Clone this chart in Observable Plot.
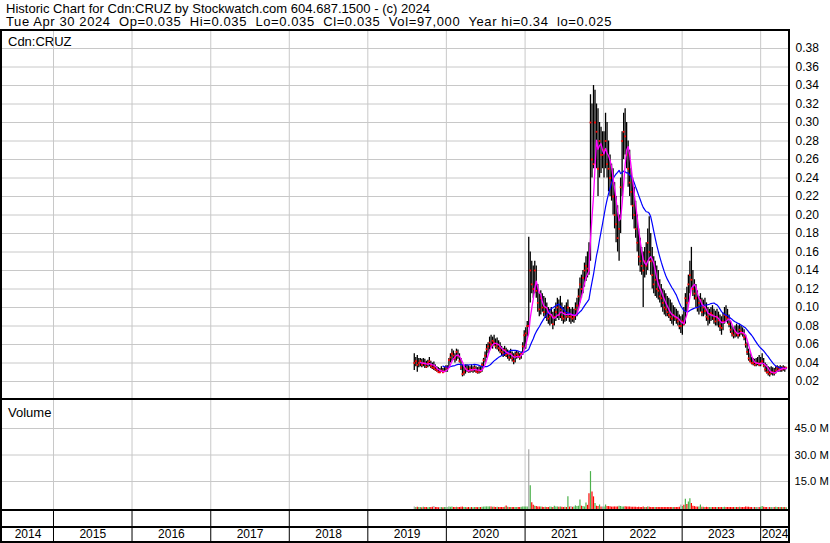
<!DOCTYPE html>
<html><head><meta charset="utf-8">
<script src="https://cdn.jsdelivr.net/npm/d3@7"></script>
<script src="https://cdn.jsdelivr.net/npm/@observablehq/plot@0.6"></script>
<style>
body{margin:0;background:#fff;}
#chart{position:relative;width:830px;height:543px;overflow:hidden;background:#fff;font-family:"Liberation Sans",Arial,sans-serif;}
.abs{position:absolute;}
.txt{font-size:13px;line-height:13px;white-space:pre;color:#000;}
.hdr{font-size:13px;line-height:12px;}
.ln{position:absolute;background:#000;}
</style></head><body><div id="chart"></div>
<script>
// ---- data (weekly: [high, low, close, volume in millions]) ----
const weekStart = {2019:"2019-08-05", 2020:"2020-01-06", 2021:"2021-01-04", 2022:"2022-01-03", 2023:"2023-01-02", 2024:"2024-01-01"};
const w2019 = [
[0.050,0.032,0.040,0.5],[0.046,0.036,0.042,0.3],[0.048,0.030,0.038,0.4],[0.045,0.035,0.040,0.3],
[0.045,0.036,0.042,0.3],[0.044,0.035,0.038,0.2],[0.045,0.036,0.040,0.4],[0.044,0.034,0.039,0.3],
[0.042,0.034,0.036,0.3],[0.043,0.035,0.040,0.2],[0.046,0.036,0.042,0.3],[0.042,0.034,0.037,0.3],
[0.040,0.033,0.035,0.4],[0.041,0.032,0.035,0.8],[0.038,0.031,0.033,0.3],[0.036,0.030,0.032,0.3],
[0.035,0.030,0.030,0.2],[0.034,0.029,0.030,0.3],[0.036,0.030,0.032,0.3],[0.034,0.029,0.030,0.2],
[0.035,0.030,0.031,0.3],[0.037,0.030,0.035,0.3]];
const w2020 = [
[0.037,0.030,0.035,0.3],[0.045,0.034,0.043,0.5],[0.050,0.040,0.046,0.4],[0.055,0.042,0.050,0.5],
[0.053,0.043,0.048,0.3],[0.050,0.040,0.045,0.3],[0.055,0.042,0.052,0.4],[0.054,0.044,0.048,0.3],
[0.050,0.040,0.042,0.3],[0.045,0.032,0.035,0.4],[0.038,0.025,0.028,0.5],[0.036,0.026,0.030,0.3],
[0.038,0.028,0.034,0.3],[0.038,0.030,0.033,0.2],[0.037,0.029,0.031,0.3],[0.036,0.029,0.034,0.2],
[0.038,0.030,0.032,0.3],[0.036,0.029,0.033,0.2],[0.037,0.030,0.035,0.3],[0.036,0.029,0.031,0.3],
[0.035,0.028,0.030,0.2],[0.036,0.028,0.032,0.3],[0.036,0.029,0.031,0.3],[0.040,0.030,0.038,0.4],
[0.045,0.036,0.043,0.5],[0.052,0.040,0.048,0.5],[0.060,0.045,0.055,0.6],[0.062,0.050,0.058,0.5],
[0.068,0.054,0.062,0.6],[0.070,0.056,0.060,0.5],[0.068,0.055,0.064,0.4],[0.070,0.058,0.062,0.4],
[0.066,0.055,0.058,0.3],[0.067,0.054,0.060,0.4],[0.064,0.052,0.056,0.3],[0.062,0.050,0.054,0.3],
[0.058,0.048,0.052,0.3],[0.056,0.046,0.050,0.3],[0.058,0.047,0.054,0.4],[0.056,0.046,0.049,1.2],
[0.054,0.044,0.050,0.4],[0.053,0.042,0.046,0.3],[0.055,0.044,0.050,0.3],[0.052,0.041,0.045,0.3],
[0.050,0.038,0.042,0.3],[0.052,0.040,0.048,0.3],[0.053,0.044,0.050,0.3],[0.052,0.045,0.048,0.3],
[0.050,0.043,0.046,0.3],[0.052,0.044,0.050,0.4],[0.062,0.048,0.058,0.5],[0.075,0.055,0.070,0.6]];
const w2021 = [
[0.078,0.055,0.072,0.6],[0.085,0.068,0.080,0.5],[0.176,0.078,0.080,33.0],[0.160,0.105,0.140,12.6],
[0.150,0.115,0.125,3.0],[0.145,0.110,0.120,1.5],[0.150,0.115,0.140,1.0],[0.145,0.110,0.118,0.8],
[0.125,0.095,0.105,0.6],[0.115,0.090,0.098,0.5],[0.118,0.092,0.110,0.5],[0.115,0.095,0.100,0.4],
[0.112,0.090,0.095,0.3],[0.110,0.088,0.100,0.4],[0.105,0.085,0.092,0.3],[0.100,0.082,0.088,0.3],
[0.098,0.080,0.090,0.6],[0.100,0.082,0.092,0.4],[0.095,0.076,0.082,0.3],[0.098,0.080,0.090,1.0],
[0.105,0.085,0.095,0.5],[0.110,0.088,0.100,0.6],[0.108,0.086,0.092,0.4],[0.112,0.088,0.098,0.6],
[0.105,0.085,0.090,0.4],[0.100,0.082,0.088,0.3],[0.102,0.084,0.095,0.4],[0.105,0.085,0.090,0.3],
[0.108,0.088,0.100,6.3],[0.100,0.084,0.090,0.5],[0.098,0.082,0.090,0.8],[0.100,0.084,0.088,0.4],
[0.098,0.083,0.090,0.5],[0.105,0.086,0.098,1.2],[0.110,0.090,0.102,0.8],[0.120,0.098,0.112,1.0],
[0.132,0.105,0.125,4.5],[0.135,0.110,0.120,1.0],[0.140,0.115,0.132,0.8],[0.148,0.122,0.140,0.6],
[0.155,0.128,0.145,2.9],[0.160,0.132,0.142,1.5],[0.170,0.135,0.140,8.0],[0.330,0.150,0.300,20.6],
[0.320,0.240,0.260,9.1],[0.340,0.250,0.255,6.3],[0.335,0.255,0.300,2.5],[0.320,0.250,0.290,1.0],
[0.315,0.220,0.250,0.8],[0.300,0.240,0.280,1.7],[0.295,0.245,0.265,0.6],[0.290,0.250,0.265,0.6]];
const w2022 = [
[0.290,0.240,0.270,0.6],[0.310,0.250,0.280,1.7],[0.300,0.240,0.255,0.8],[0.280,0.225,0.250,0.8],
[0.265,0.220,0.240,0.7],[0.255,0.215,0.235,0.5],[0.250,0.200,0.220,0.5],[0.235,0.185,0.200,0.6],
[0.220,0.170,0.190,0.5],[0.210,0.160,0.175,0.6],[0.200,0.150,0.185,1.0],[0.240,0.180,0.230,0.8],
[0.290,0.220,0.280,0.6],[0.310,0.260,0.290,0.6],[0.315,0.265,0.285,0.7],[0.300,0.250,0.265,0.5],
[0.280,0.230,0.250,0.6],[0.270,0.220,0.235,0.5],[0.250,0.210,0.225,0.4],[0.240,0.195,0.210,0.4],
[0.230,0.185,0.200,0.4],[0.215,0.175,0.185,0.4],[0.200,0.160,0.170,0.3],[0.185,0.145,0.155,0.4],
[0.175,0.138,0.150,0.3],[0.165,0.135,0.145,0.3],[0.160,0.100,0.140,0.5],[0.165,0.132,0.150,0.3],
[0.170,0.135,0.145,0.3],[0.185,0.140,0.170,0.6],[0.198,0.150,0.160,0.4],[0.180,0.135,0.150,0.3],
[0.165,0.120,0.135,0.3],[0.155,0.115,0.125,0.3],[0.150,0.112,0.130,0.3],[0.145,0.110,0.120,0.3],
[0.140,0.108,0.118,0.3],[0.130,0.105,0.112,0.3],[0.125,0.100,0.110,0.3],[0.120,0.095,0.105,0.3],
[0.118,0.092,0.100,0.3],[0.115,0.090,0.098,0.3],[0.112,0.090,0.095,0.3],[0.110,0.088,0.092,0.3],
[0.108,0.085,0.090,0.3],[0.105,0.082,0.088,0.3],[0.102,0.080,0.092,0.3],[0.100,0.085,0.090,0.3],
[0.098,0.082,0.088,0.3],[0.096,0.080,0.085,0.3],[0.092,0.076,0.080,0.4],[0.090,0.072,0.080,1.7]];
const w2023 = [
[0.092,0.070,0.085,0.8],[0.100,0.080,0.082,1.5],[0.115,0.082,0.110,5.0],[0.122,0.095,0.105,2.0],
[0.135,0.105,0.125,3.4],[0.150,0.115,0.135,5.3],[0.165,0.120,0.130,2.5],[0.140,0.112,0.120,1.0],
[0.130,0.108,0.115,0.8],[0.125,0.100,0.110,0.6],[0.118,0.095,0.100,0.5],[0.112,0.092,0.105,0.6],
[0.115,0.095,0.108,1.7],[0.110,0.090,0.095,0.4],[0.108,0.090,0.100,0.4],[0.110,0.092,0.096,0.3],
[0.105,0.085,0.090,0.4],[0.100,0.080,0.088,0.3],[0.098,0.082,0.092,0.3],[0.100,0.085,0.094,0.3],
[0.102,0.086,0.092,0.3],[0.098,0.082,0.088,0.3],[0.096,0.080,0.085,0.3],[0.098,0.080,0.090,0.3],
[0.095,0.078,0.086,0.3],[0.092,0.074,0.080,0.3],[0.090,0.070,0.078,0.3],[0.094,0.075,0.085,0.3],
[0.100,0.082,0.092,0.4],[0.102,0.084,0.090,0.3],[0.098,0.082,0.088,0.3],[0.092,0.078,0.082,0.3],
[0.085,0.072,0.076,0.3],[0.080,0.068,0.072,0.3],[0.078,0.066,0.070,0.3],[0.080,0.067,0.074,0.3],
[0.082,0.068,0.072,0.3],[0.080,0.066,0.070,0.3],[0.082,0.068,0.076,0.4],[0.080,0.070,0.074,0.3],
[0.078,0.068,0.072,0.3],[0.076,0.064,0.068,0.3],[0.070,0.056,0.060,0.5],[0.062,0.048,0.052,0.4],
[0.055,0.042,0.045,0.4],[0.050,0.040,0.042,0.3],[0.046,0.038,0.040,0.3],[0.045,0.037,0.040,0.3],
[0.044,0.036,0.038,0.3],[0.045,0.036,0.040,0.3],[0.046,0.037,0.040,0.3],[0.048,0.036,0.038,0.3]];
const w2024 = [
[0.046,0.036,0.040,0.4],[0.050,0.038,0.042,0.8],[0.045,0.035,0.037,0.4],[0.040,0.030,0.033,0.3],
[0.038,0.028,0.030,0.3],[0.036,0.026,0.030,0.3],[0.035,0.025,0.028,0.3],[0.036,0.027,0.030,0.3],
[0.035,0.026,0.030,0.3],[0.034,0.026,0.029,0.3],[0.036,0.028,0.032,0.4],[0.037,0.030,0.035,0.3],
[0.036,0.030,0.033,0.3],[0.037,0.030,0.035,0.3],[0.036,0.030,0.033,0.3],[0.037,0.031,0.035,0.3],
[0.036,0.030,0.034,0.3],[0.035,0.035,0.035,0.1]];
const priceTicks = [0.02,0.04,0.06,0.08,0.10,0.12,0.14,0.16,0.18,0.20,0.22,0.24,0.26,0.28,0.30,0.32,0.34,0.36,0.38];
const volTicks = [15,30,45];
const yearLabels = [2014,2015,2016,2017,2018,2019,2020,2021,2022,2023,2024];
const headerLine1 = "Historic Chart for Cdn:CRUZ by Stockwatch.com 604.687.1500 - (c) 2024";
const headerLine2 = "Tue Apr 30 2024  Op=0.035  Hi=0.035  Lo=0.035  Cl=0.035  Vol=97,000  Year hi=0.34  lo=0.025";
const symbolLabel = "Cdn:CRUZ";
const volumeLabel = "Volume";

// ---- build table ----
const rows = [];
for (const [yr, arr] of [[2019,w2019],[2020,w2020],[2021,w2021],[2022,w2022],[2023,w2023],[2024,w2024]]) {
  const s = new Date(weekStart[yr] + "T00:00:00Z");
  arr.forEach((r, i) => rows.push({date: new Date(+s + i * 7 * 864e5), hi: r[0], lo: r[1], cl: r[2], vol: r[3]}));
}
rows.forEach((d, i) => {
  d.dir = i === 0 ? "flat" : d.cl > rows[i-1].cl ? "up" : d.cl < rows[i-1].cl ? "down" : "flat";
});

const xDomain = [new Date(Date.UTC(2014,4,9)), new Date(Date.UTC(2024,4,14))];
const yearStarts = yearLabels.slice(1).map(y => new Date(Date.UTC(y,0,1)));
const yearMids = yearLabels.map(y => {
  const a = Math.max(+xDomain[0], Date.UTC(y,0,1));
  const b = Math.min(+xDomain[1], Date.UTC(y+1,0,1));
  return {mid: new Date((a + b) / 2), label: String(y)};
});

const style = {fontFamily: "'Liberation Sans', Arial, sans-serif", fontSize: "12px", background: "none", color: "#000", overflow: "visible"};
const grid = "#c8c8c8";
const X = {type: "utc", domain: xDomain, axis: null};

const chart = document.getElementById("chart");
function place(el, top) { el.style.position = "absolute"; el.style.left = "0px"; el.style.top = top + "px"; chart.appendChild(el); }

// price panel
const price = Plot.plot({
  width: 830, height: 370, marginLeft: 2, marginRight: 41, marginTop: 0, marginBottom: 0,
  style, x: X,
  y: {domain: [0, 0.4], range: [369.5, -0.5]},
  marks: [
    Plot.gridY(priceTicks, {stroke: grid, strokeOpacity: 1}),
    Plot.gridX(yearStarts, {stroke: grid, strokeOpacity: 1}),
    Plot.ruleX(rows, {x: "date", y1: "lo", y2: "hi", stroke: "#000", strokeWidth: 1.3}),
    Plot.dot(rows, {x: "date", y: "cl", r: 1, symbol: "square", fill: "#ff0000"}),
    Plot.lineY(rows, Plot.windowY({k: 20, anchor: "end", strict: true}, {x: "date", y: "cl", stroke: "#0000ff", strokeWidth: 1.2})),
    Plot.lineY(rows, Plot.windowY({k: 5, anchor: "end", strict: true}, {x: "date", y: "cl", stroke: "#ff00ff", strokeWidth: 1.3})),
    Plot.axisY(priceTicks, {anchor: "right", tickSize: 0, tickPadding: 6, tickFormat: d => d.toFixed(2), label: null})
  ]
});
place(price, 30);

// volume panel
const VOL_FLOOR = -0.85;
const vol = Plot.plot({
  width: 830, height: 110, marginLeft: 2, marginRight: 41, marginTop: 0, marginBottom: 0,
  style, x: X,
  y: {domain: [0, 60], range: [107.5, 1.5]},
  color: {domain: ["up", "down", "flat"], range: ["#4cb24c", "#ff0000", "#a8a8a8"]},
  marks: [
    Plot.gridY(volTicks, {stroke: grid, strokeOpacity: 1}),
    Plot.gridX(yearStarts, {stroke: grid, strokeOpacity: 1}),
    Plot.ruleX(rows, {x: "date", y1: () => VOL_FLOOR, y2: "vol", stroke: "dir", strokeWidth: 1.2}),
    Plot.axisY(volTicks, {anchor: "right", tickSize: 0, tickPadding: 5, fontSize: 11.2, tickFormat: d => d.toFixed(1) + " M", label: null})
  ]
});
place(vol, 400);

// year strip
const yr = Plot.plot({
  width: 830, height: 30, marginLeft: 2, marginRight: 41, marginTop: 0, marginBottom: 0,
  style, x: X,
  marks: [
    Plot.ruleX(yearStarts, {stroke: "#000", strokeWidth: 1}),
    Plot.text(yearMids, {x: "mid", text: "label", frameAnchor: "bottom", dy: -7, lineAnchor: "middle", fontSize: 12, fill: "#000"})
  ]
});
place(yr, 511);

// texts
function txt(s, cls, left, top) { const d = document.createElement("div"); d.className = "abs txt " + cls; d.textContent = s; d.style.left = left + "px"; d.style.top = top + "px"; chart.appendChild(d); return d; }
function fitWidth(el, target) {
  const w = el.getBoundingClientRect().width;
  const n = el.textContent.length;
  el.style.letterSpacing = ((target - w) / n) + "px";
}
fitWidth(txt(headerLine1, "hdr", 6, 3.4), 424);
fitWidth(txt(headerLine2, "hdr", 6, 16.1), 606);
txt(symbolLabel, "", 8, 34.5);
txt(volumeLabel, "", 8, 406);

// frame lines
function ln(l, t, w, h) { const d = document.createElement("div"); d.className = "ln"; Object.assign(d.style, {left: l + "px", top: t + "px", width: w + "px", height: h + "px"}); chart.appendChild(d); }
ln(0, 29, 790, 2);
ln(0, 29, 2, 514);
ln(788, 29, 2, 514);
ln(0, 398, 790, 2);
ln(0, 509, 790, 2);
ln(0, 526, 790, 2);
ln(0, 541, 790, 2);
</script></body></html>
